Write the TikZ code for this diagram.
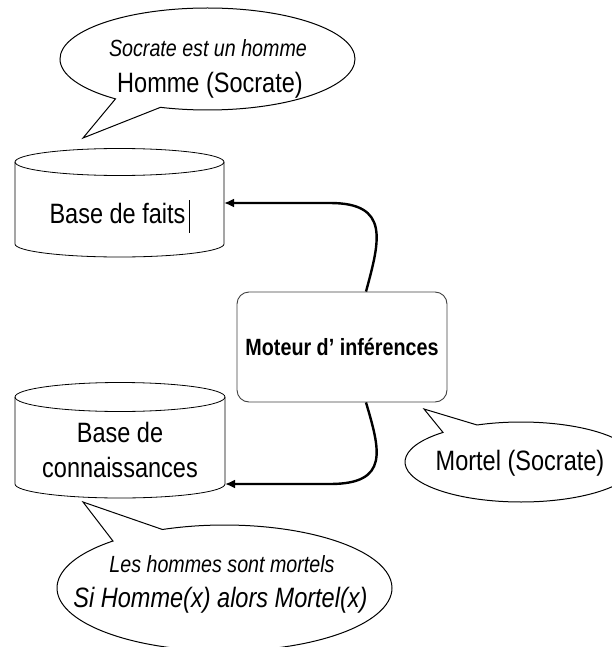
\documentclass[tikz,border=0pt]{standalone}
\usepackage{fontspec}
\setmainfont{Liberation Sans}[FakeStretch=0.84]
\usetikzlibrary{shapes.callouts,arrows.meta}

\tikzset{
  grand/.style={font=\fontsize{28}{35}\selectfont},
  petit/.style={font=\fontsize{23.4}{28}\selectfont\itshape},
  bulle/.style={ellipse callout, draw, fill=white, line width=1pt,
    callout pointer arc=20, inner sep=0pt, outer sep=0pt},
  corps/.style={inner sep=0pt, outer sep=0pt},
  cuve/.style={line width=0.8pt},
  boite/.style={draw=black!75, line width=0.9pt, rounded corners=12pt,
    minimum width=210pt, minimum height=110pt,
    font=\fontsize{23.5}{28}\selectfont\bfseries},
  fleche/.style={line width=2.4pt, -{Latex[length=10pt,width=9pt]}}
}

\begin{document}
\begin{tikzpicture}[x=1pt, y=-1pt]
  \useasboundingbox (0,0) rectangle (612,647);

  % bulle du haut
  \node[bulle, minimum width=295pt, minimum height=102pt,
    callout absolute pointer={(83,138)}] (bulleFaits) at (207.5,59) {};
  \node[petit, anchor=base] (socrate) at (208,57) {Socrate est un homme};
  \node[grand, anchor=base] (homme) at (210,93) {Homme (Socrate)};

  % base de faits
  \node[corps, minimum width=209pt, minimum height=82pt] (faits) at (119.5,203) {};
  \draw[cuve] (faits.north west) -- (faits.south west)
    arc[start angle=180, end angle=0, x radius=104.5, y radius=13] -- (faits.north east);
  \draw[cuve] (faits.north) ellipse [x radius=104.5, y radius=13.5];
  \node[grand, anchor=base] (txtFaits) at (117.5,223) {Base de faits};
  \draw[line width=0.7pt] (189,200) -- (189,233);

  % base de connaissances
  \node[corps, minimum width=210pt, minimum height=87pt] (connaissances) at (120,440.5) {};
  \draw[cuve] (connaissances.north west) -- (connaissances.south west)
    arc[start angle=180, end angle=0, x radius=105, y radius=14] -- (connaissances.north east);
  \draw[cuve] (connaissances.north) ellipse [x radius=105, y radius=14.5];
  \node[grand, anchor=base, align=center] (txtConn) at (120,477) {Base de\\connaissances};

  % moteur
  \node[boite] (moteur) at (342,347) {Moteur d’ inférences};

  \draw[fleche] ([xshift=24pt]moteur.north) .. controls (380,240) and (390,203) .. (330,203) -- (faits.east);
  \draw[fleche] ([xshift=24pt]moteur.south) .. controls (380,450) and (390,484) .. (330,484) -- (connaissances.south east);

  % bulle de droite
  \node[bulle, minimum width=232pt, minimum height=80pt,
    callout absolute pointer={(424,409)}] (bulleMortel) at (521,462) {};
  \node[grand, anchor=base] (mortel) at (520,470) {Mortel (Socrate)};

  % bulle du bas
  \node[bulle, minimum width=335pt, minimum height=126pt,
    callout absolute pointer={(83,502)}] (bulleRegle) at (224.5,588) {};
  \node[petit, anchor=base] (hommes) at (222,572) {Les hommes sont mortels};
  \node[grand, anchor=base, font=\fontsize{28}{35}\selectfont\itshape] (regle) at (220.5,607) {Si Homme(x) alors Mortel(x)};
\end{tikzpicture}
\end{document}
